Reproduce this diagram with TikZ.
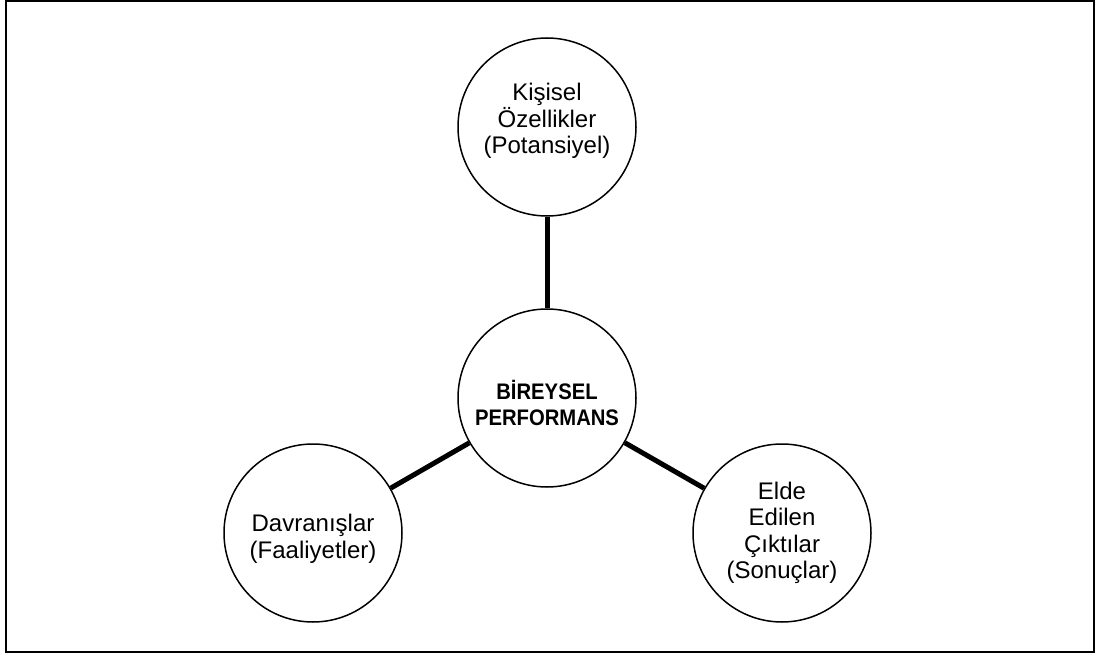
\documentclass[tikz,border=0pt]{standalone}
\usepackage{fontspec}
\setmainfont{Liberation Sans}
\newfontfamily\hubfont[FakeStretch=0.9]{Liberation Sans}
\begin{document}
\begin{tikzpicture}[x=1pt,y=-1pt,
  ring/.style={circle,draw=black,line width=1.5pt,minimum size=178pt,inner sep=0pt},
  caption/.style={align=center,inner sep=0pt,font=\fontsize{24}{26.5}\selectfont},
  hubcaption/.style={align=center,inner sep=0pt,font=\hubfont\fontsize{22.5}{26}\selectfont\bfseries},
  link/.style={line width=5pt,black}]
  \useasboundingbox (0,0) rectangle (1101,655);
  % outer frame
  \draw[line width=2pt] (6,1.5) rectangle (1094,652);
  % circles
  \node[ring] (c) at (547,398) {};
  \node[ring] (t) at (547,127) {};
  \node[ring] (l) at (313,533) {};
  \node[ring] (r) at (782,533) {};
  % texts inside the circles
  \node[hubcaption] (ctext) at ([yshift=-5pt]c.center) {BİREYSEL\\PERFORMANS};
  \node[caption] (ttext) at ([yshift=6pt]t.center) {Kişisel\\Özellikler\\(Potansiyel)};
  \node[caption] (ltext) at ([yshift=-6pt]l.center) {Davranışlar\\(Faaliyetler)};
  \node[caption] (rtext) at (r.center) {Elde\\Edilen\\Çıktılar\\(Sonuçlar)};
  % connectors
  \draw[link] (c) -- (t);
  \draw[link] (c) -- (l);
  \draw[link] (c) -- (r);
\end{tikzpicture}
\end{document}
